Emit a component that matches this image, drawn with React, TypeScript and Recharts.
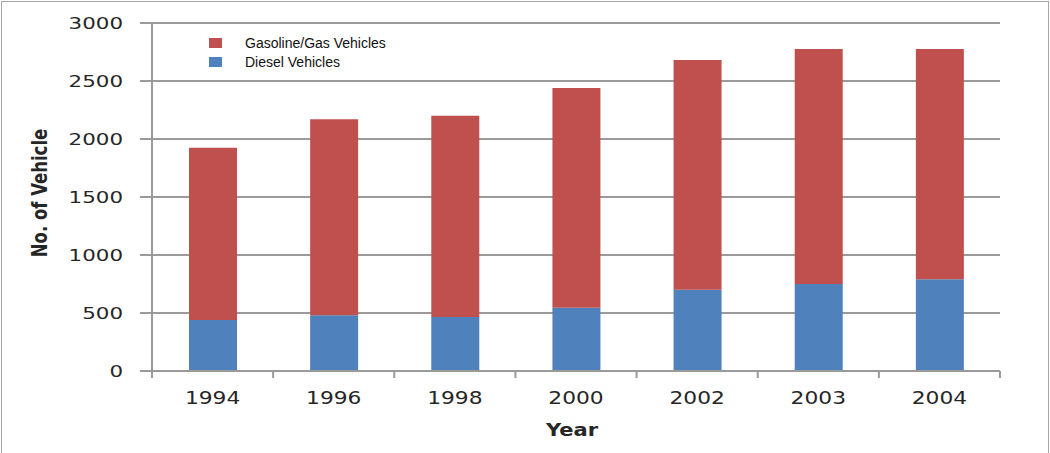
import React from 'react';
import { BarChart, Bar, XAxis, YAxis, CartesianGrid } from 'recharts';

const years = ['1994', '1996', '1998', '2000', '2002', '2003', '2004'];
const dieselVehicles = [440, 480, 465, 545, 700, 750, 790];
const gasolineVehicles = [1485, 1690, 1735, 1895, 1980, 2025, 1985];
const yTicks = [0, 500, 1000, 1500, 2000, 2500, 3000];

const legendItems = [
    { name: 'Gasoline/Gas Vehicles', color: '#C0504D' },
    { name: 'Diesel Vehicles', color: '#4F81BD' },
];

const data = years.map((year, i) => ({
    year,
    diesel: dieselVehicles[i],
    gasoline: gasolineVehicles[i],
}));

// plot area: x 152..1000, y 23..371
const PLOT_LEFT = 152;
const PLOT_RIGHT = 1000;
const BAND = (PLOT_RIGHT - PLOT_LEFT) / years.length;
const AXIS_GREY = '#9a9a9a';
const TEXT = '#262626';

const YTick = (props: any) => {
    const { x, y, payload } = props;
    return (
        <g transform={`translate(${x},${y + 1}) scale(1.38,1)`}>
            <text x={0} y={0} textAnchor="end" dominantBaseline="central"
                fontFamily="DejaVu Sans" fontSize={15.5} fill={TEXT}>
                {payload.value}
            </text>
        </g>
    );
};

const XTick = (props: any) => {
    const { x, y, payload, index } = props;
    const last = index === years.length - 1;
    return (
        <g>
            <line x1={x - BAND / 2} x2={x - BAND / 2} y1={y} y2={y + 7} stroke={AXIS_GREY} strokeWidth={2} />
            {last && (
                <line x1={x + BAND / 2} x2={x + BAND / 2} y1={y} y2={y + 7} stroke={AXIS_GREY} strokeWidth={2} />
            )}
            <g transform={`translate(${x},${y + 27}) scale(1.28,1)`}>
                <text x={0} y={0} textAnchor="middle" dominantBaseline="central"
                    fontFamily="DejaVu Sans" fontSize={17} fill={TEXT}>
                    {payload.value}
                </text>
            </g>
        </g>
    );
};

const YearLabel = (props: any) => {
    const { viewBox } = props;
    const cx = viewBox.x + viewBox.width / 2;
    return (
        <g transform={`translate(${cx - 4},${viewBox.y + 59}) scale(1.2,1)`}>
            <text x={0} y={0} textAnchor="middle" dominantBaseline="central"
                fontFamily="DejaVu Sans" fontWeight="bold" fontSize={17.5} fill={TEXT}>
                Year
            </text>
        </g>
    );
};

const VehicleLabel = () => (
    <g transform="translate(40,193) scale(1.3,1) rotate(-90)">
        <text x={0} y={0} textAnchor="middle" dominantBaseline="central"
            fontFamily="DejaVu Sans" fontWeight="bold" fontSize={16.5} fill={TEXT}>
            No. of Vehicle
        </text>
    </g>
);

const App: React.FC = () => {
    return (
        <div style={{ position: 'absolute', left: 0, top: 0, width: 1050, height: 453, background: '#fff' }}>
            <BarChart
                width={1050}
                height={453}
                data={data}
                margin={{ top: 23, right: 50, bottom: 0, left: 0 }}
            >
                <CartesianGrid vertical={false} stroke={AXIS_GREY} strokeWidth={2} />
                <XAxis
                    dataKey="year"
                    height={82}
                    tickLine={false}
                    tickSize={0}
                    tickMargin={0}
                    axisLine={{ stroke: AXIS_GREY, strokeWidth: 2 }}
                    tick={<XTick />}
                    interval={0}
                    label={<YearLabel />}
                />
                <YAxis
                    width={152}
                    domain={[0, 3000]}
                    ticks={yTicks}
                    interval={0}
                    tickSize={12}
                    tickMargin={17}
                    tickLine={{ stroke: AXIS_GREY, strokeWidth: 2 }}
                    axisLine={{ stroke: AXIS_GREY, strokeWidth: 2 }}
                    tick={<YTick />}
                    label={<VehicleLabel />}
                />
                <Bar dataKey="diesel" stackId="v" fill="#4F81BD" barSize={48} isAnimationActive={false} />
                <Bar dataKey="gasoline" stackId="v" fill="#C0504D" barSize={48} isAnimationActive={false} />
            </BarChart>
            <div style={{ position: 'absolute', left: 209, top: 33, fontFamily: 'Liberation Sans', fontSize: 14, color: '#111' }}>
                {legendItems.map((item) => (
                    <div key={item.name} style={{ display: 'flex', alignItems: 'center', height: 19 }}>
                        <span style={{ width: 13, height: 10, background: item.color, marginRight: 23, display: 'inline-block' }} />
                        <span>{item.name}</span>
                    </div>
                ))}
            </div>
            <div style={{ position: 'absolute', left: 1, top: 1, width: 1046, height: 460, border: '1px solid #a6a6a6', pointerEvents: 'none' }} />
        </div>
    );
};

export default App;
